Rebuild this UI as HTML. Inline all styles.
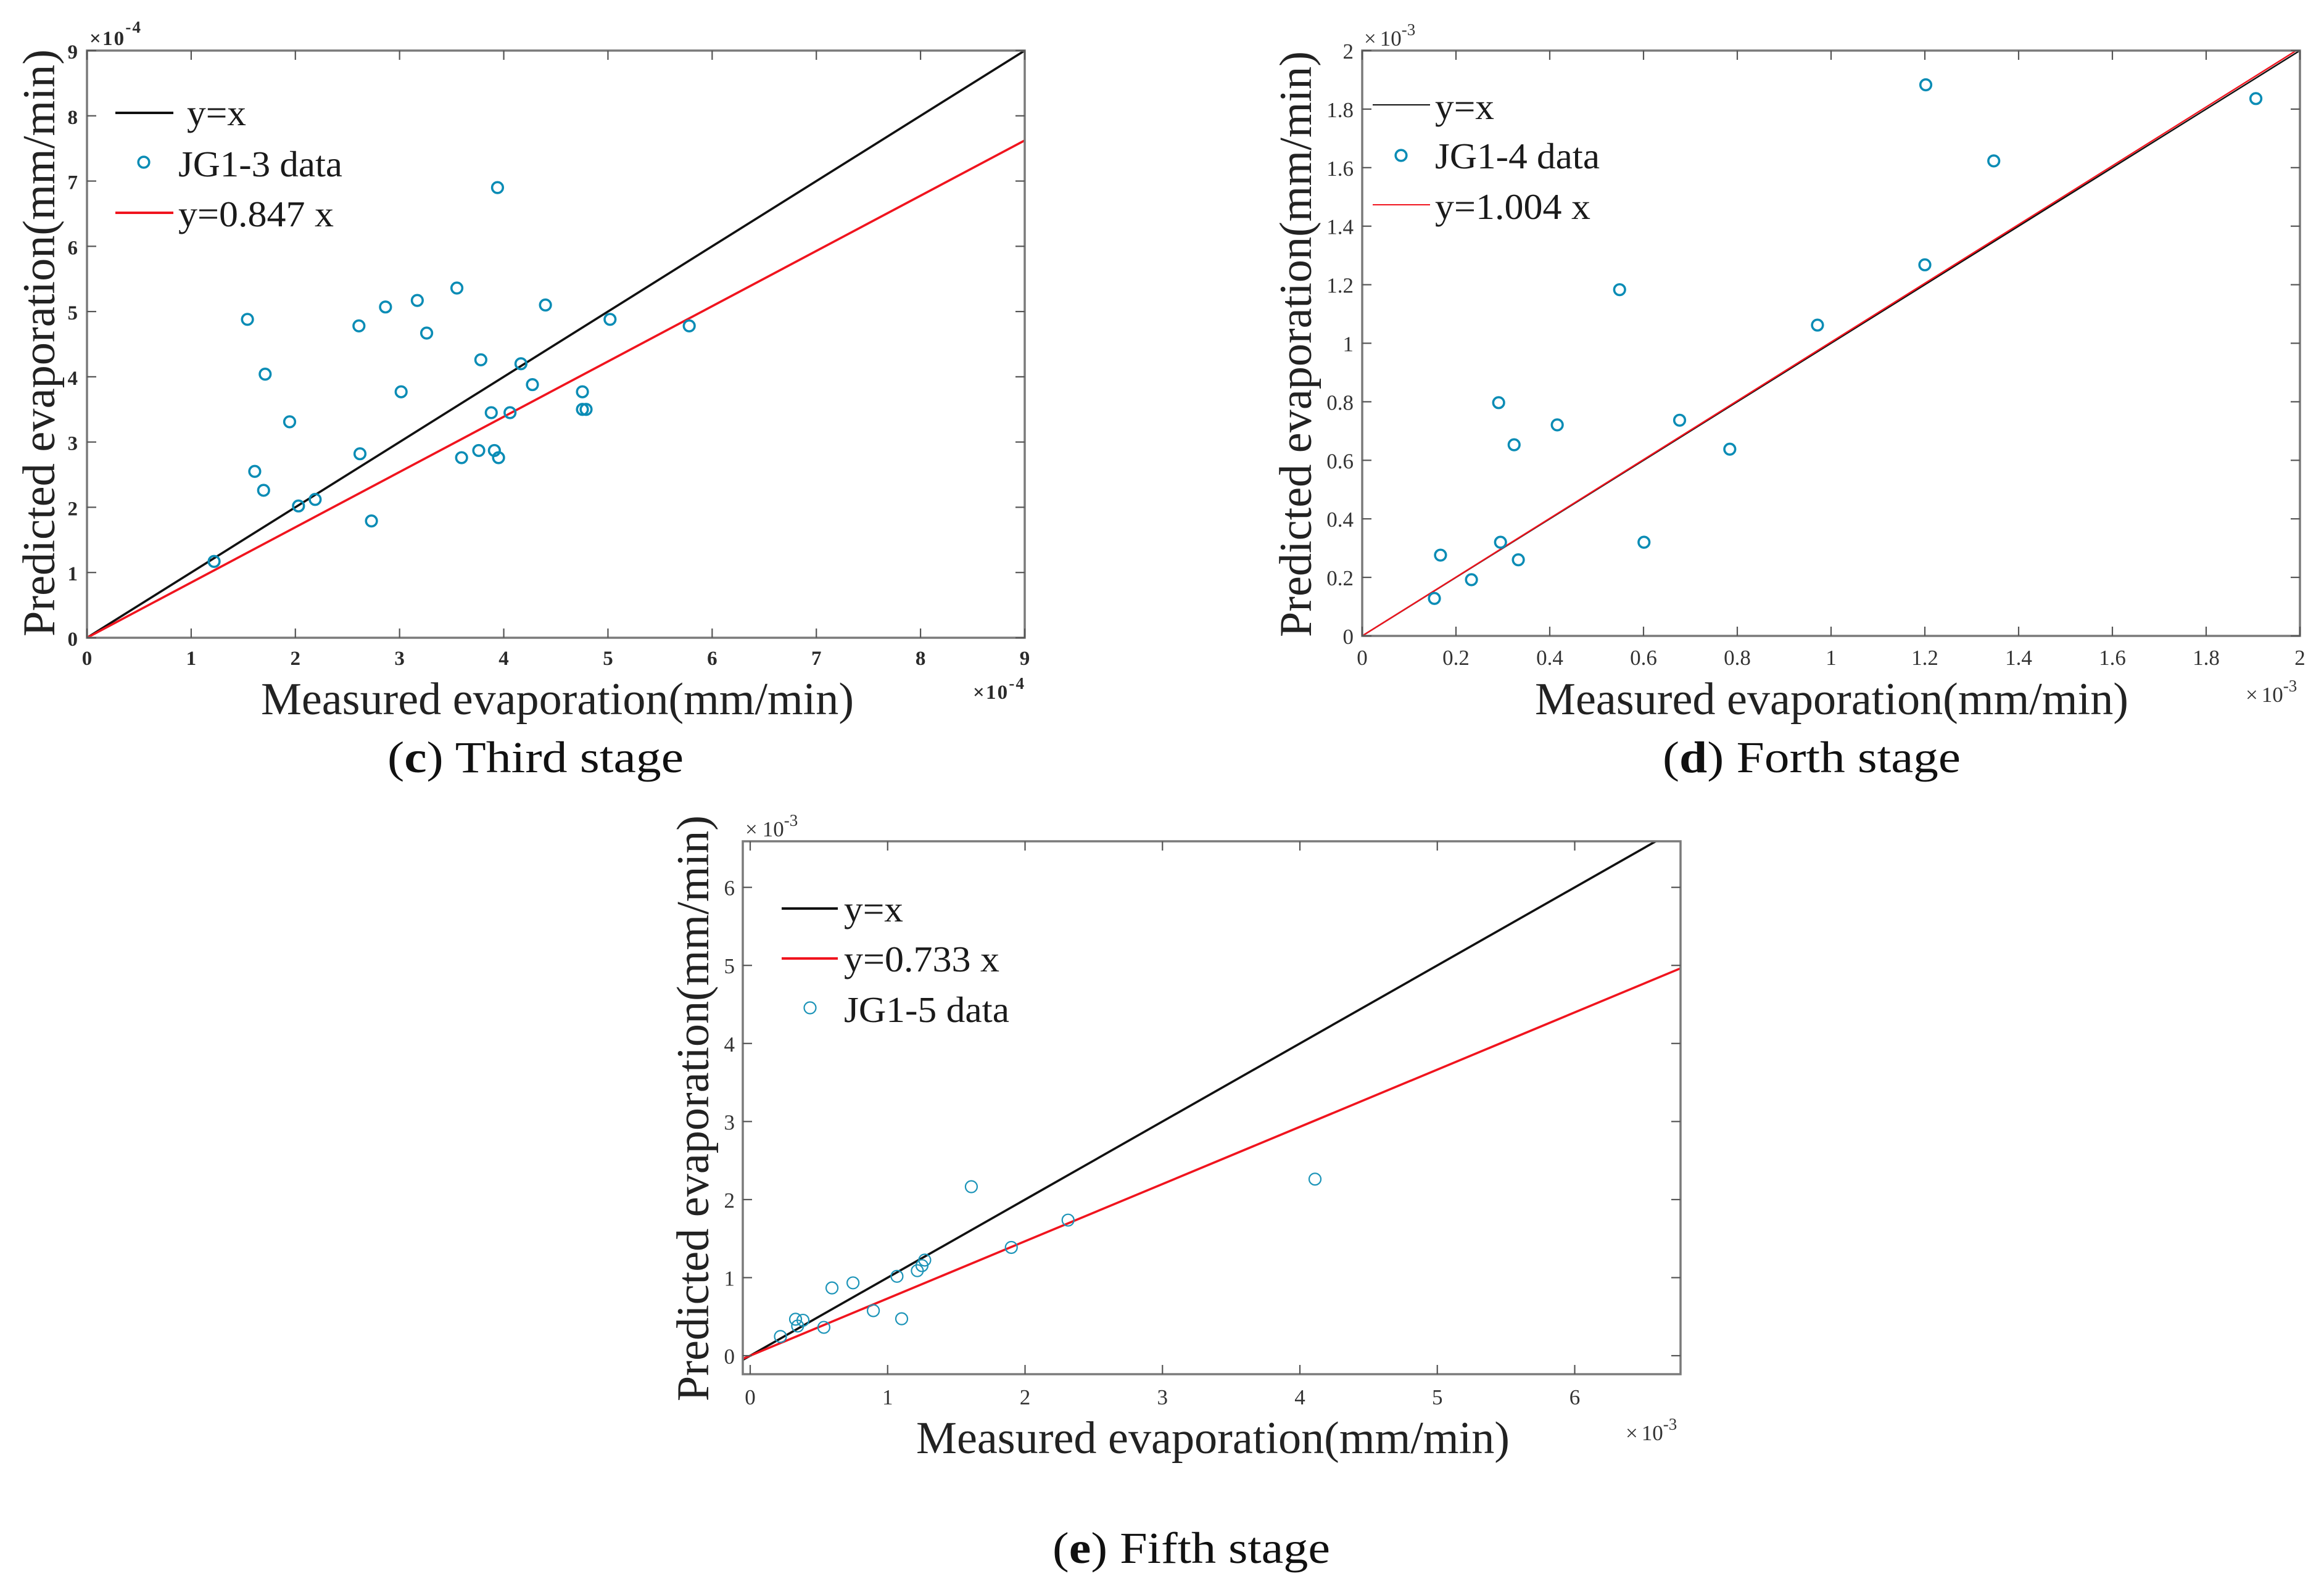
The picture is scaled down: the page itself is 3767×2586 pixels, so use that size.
<!DOCTYPE html>
<html lang="en">
<head>
<meta charset="utf-8">
<title>Measured vs predicted evaporation</title>
<style>
html,body{margin:0;padding:0;background:#fff;}
svg{display:block;}
text{font-family:"Liberation Serif","DejaVu Serif",serif;fill:#1a1a1a;}
.title{font-size:74px;fill:#222;}
.legend{font-size:59px;fill:#1a1a1a;}
.caption{font-size:72px;fill:#111;}
.tick{font-size:35px;fill:#333;}
.tick-bold{font-size:33px;font-weight:bold;fill:#2a2a2a;}
.expo{font-size:35px;fill:#333;}
.expo-bold{font-size:33px;font-weight:bold;fill:#2a2a2a;}
.sup{font-size:27px;}
</style>
</head>
<body>
<svg id="figure" xmlns="http://www.w3.org/2000/svg" width="3767" height="2586" viewBox="0 0 3767 2586">
<rect x="0" y="0" width="3767" height="2586" fill="#ffffff"/>

<g id="panel-c">
  <text class="title" transform="translate(88,1032) rotate(-90)" textLength="952" lengthAdjust="spacingAndGlyphs">Predicted evaporation(mm/min)</text>
  <text class="title" x="423" y="1158" textLength="961" lengthAdjust="spacingAndGlyphs">Measured evaporation(mm/min)</text>
  <text class="expo-bold" x="145" y="73" textLength="83">×10<tspan class="sup" dy="-20">-4</tspan></text>
  <text class="expo-bold" x="1577" y="1133" textLength="83">×10<tspan class="sup" dy="-16">-4</tspan></text>
  <text class="caption" x="628" y="1252" textLength="480" lengthAdjust="spacingAndGlyphs">(<tspan font-weight="bold">c</tspan>) Third stage</text>
  <line x1="187" y1="183" x2="281" y2="183" stroke="#111" stroke-width="4"/>
  <text class="legend" x="303" y="203" textLength="96" lengthAdjust="spacingAndGlyphs">y=x</text>
  <circle cx="233" cy="263" r="8.8" fill="none" stroke="#0a8cb5" stroke-width="3.6"/>
  <text class="legend" x="289" y="286" textLength="266" lengthAdjust="spacingAndGlyphs">JG1-3 data</text>
  <line x1="187" y1="345" x2="281" y2="345" stroke="#f0141e" stroke-width="4"/>
  <text class="legend" x="289" y="367" textLength="252" lengthAdjust="spacingAndGlyphs">y=0.847 x</text>
</g>

<g id="panel-d">
  <text class="title" transform="translate(2125,1033) rotate(-90)" textLength="950" lengthAdjust="spacingAndGlyphs">Predicted evaporation(mm/min)</text>
  <text class="title" x="2488" y="1158" textLength="962" lengthAdjust="spacingAndGlyphs">Measured evaporation(mm/min)</text>
  <text class="expo" x="2211" y="74"><tspan>×</tspan><tspan dx="6">10</tspan><tspan class="sup" dy="-17">-3</tspan></text>
  <text class="expo" x="3640" y="1138"><tspan>×</tspan><tspan dx="6">10</tspan><tspan class="sup" dy="-17">-3</tspan></text>
  <text class="caption" x="2695" y="1252" textLength="483" lengthAdjust="spacingAndGlyphs">(<tspan font-weight="bold">d</tspan>) Forth stage</text>
  <line x1="2225" y1="170" x2="2318" y2="170" stroke="#111" stroke-width="2"/>
  <text class="legend" x="2326" y="193" textLength="96" lengthAdjust="spacingAndGlyphs">y=x</text>
  <circle cx="2271" cy="252" r="8.8" fill="none" stroke="#0a8cb5" stroke-width="3.6"/>
  <text class="legend" x="2326" y="273" textLength="267" lengthAdjust="spacingAndGlyphs">JG1-4 data</text>
  <line x1="2225" y1="332" x2="2318" y2="332" stroke="#f0141e" stroke-width="2"/>
  <text class="legend" x="2326" y="355" textLength="252" lengthAdjust="spacingAndGlyphs">y=1.004 x</text>
</g>

<g id="panel-e">
  <text class="title" transform="translate(1148,2272) rotate(-90)" textLength="950" lengthAdjust="spacingAndGlyphs">Predicted evaporation(mm/min)</text>
  <text class="title" x="1485" y="2356" textLength="962" lengthAdjust="spacingAndGlyphs">Measured evaporation(mm/min)</text>
  <text class="expo" x="1208" y="1356"><tspan>×</tspan><tspan dx="8">10</tspan><tspan class="sup" dy="-17">-3</tspan></text>
  <text class="expo" x="2635" y="2335"><tspan>×</tspan><tspan dx="6">10</tspan><tspan class="sup" dy="-17">-3</tspan></text>
  <text class="caption" x="1706" y="2534" textLength="450" lengthAdjust="spacingAndGlyphs">(<tspan font-weight="bold">e</tspan>) Fifth stage</text>
  <line x1="1267" y1="1473" x2="1358" y2="1473" stroke="#111" stroke-width="4"/>
  <text class="legend" x="1368" y="1494" textLength="96" lengthAdjust="spacingAndGlyphs">y=x</text>
  <line x1="1267" y1="1554" x2="1358" y2="1554" stroke="#f0141e" stroke-width="4"/>
  <text class="legend" x="1368" y="1575" textLength="252" lengthAdjust="spacingAndGlyphs">y=0.733 x</text>
  <circle cx="1313" cy="1634" r="9.5" fill="none" stroke="#1c94b8" stroke-width="2.2"/>
  <text class="legend" x="1368" y="1657" textLength="268" lengthAdjust="spacingAndGlyphs">JG1-5 data</text>
</g>
</svg>

<script>
// Panel (c) data, in units of 1e-4 mm/min
const cMeasured = [1.54,1.71,1.945,1.61,1.695,2.61,2.865,3.17,3.55,3.26,3.94,4.40,5.02,5.78,3.78,4.165,4.275,3.015,4.755,4.755,4.79,3.88,4.06,2.62,3.595,3.76,3.91,3.95,1.22,2.03,2.19,2.73];
const cPredicted = [4.88,4.04,3.31,2.55,2.26,4.78,5.07,5.17,5.36,4.67,6.90,5.10,4.88,4.78,4.26,4.20,3.88,3.77,3.77,3.50,3.50,3.45,3.45,2.82,2.76,2.87,2.87,2.76,1.17,2.02,2.12,1.79];
const cSlope = 0.847;
const cXTicks = [0,1,2,3,4,5,6,7,8,9];
const cYTicks = [0,1,2,3,4,5,6,7,8,9];
const cXLimits = [0,9];
const cYLimits = [0,9];

// Panel (d) data, in units of 1e-3 mm/min
const dMeasured = [0.154,0.167,0.233,0.295,0.333,0.291,0.324,0.416,0.549,0.601,0.677,0.784,0.971,1.200,1.202,1.347,1.906];
const dPredicted = [0.128,0.276,0.192,0.32,0.26,0.797,0.653,0.721,1.183,0.32,0.737,0.638,1.062,1.268,1.883,1.623,1.836];
const dSlope = 1.004;
const dXTicks = [0,0.2,0.4,0.6,0.8,1,1.2,1.4,1.6,1.8,2];
const dYTicks = [0,0.2,0.4,0.6,0.8,1,1.2,1.4,1.6,1.8,2];
const dXLimits = [0,2];
const dYLimits = [0,2];

// Panel (e) data, in units of 1e-3 mm/min
const eMeasured = [0.22,0.33,0.345,0.384,0.536,0.595,0.748,0.896,1.068,1.102,1.216,1.25,1.27,1.609,1.90,2.313,4.11];
const ePredicted = [0.246,0.467,0.38,0.454,0.363,0.868,0.933,0.577,1.017,0.473,1.089,1.154,1.225,2.165,1.387,1.737,2.262];
const eSlope = 0.733;
const eXTicks = [0,1,2,3,4,5,6];
const eYTicks = [0,1,2,3,4,5,6];
const eXLimits = [-0.054,6.77];
const eYLimits = [-0.237,6.59];

const SVG_NS = 'http://www.w3.org/2000/svg';

function make(tag, attrs, parent) {
  const el = document.createElementNS(SVG_NS, tag);
  for (const k in attrs) el.setAttribute(k, attrs[k]);
  parent.appendChild(el);
  return el;
}

function drawPanel(spec) {
  const parent = document.getElementById(spec.id);
  const sx = v => spec.left + (v - spec.xLim[0]) / (spec.xLim[1] - spec.xLim[0]) * (spec.right - spec.left);
  const sy = v => spec.bottom - (v - spec.yLim[0]) / (spec.yLim[1] - spec.yLim[0]) * (spec.bottom - spec.top);
  const clipId = 'clip-' + spec.key;
  const defs = make('defs', {}, parent);
  const clip = make('clipPath', {id: clipId}, defs);
  make('rect', {x: spec.left, y: spec.top, width: spec.right - spec.left, height: spec.bottom - spec.top}, clip);

  // Reference line and fit line
  const xStart = spec.xLim[0];
  const xEnd = spec.xLim[1];
  const identity = make('line', {x1: sx(xStart), y1: sy(xStart), x2: sx(xEnd), y2: sy(xEnd), stroke: '#111', 'stroke-width': spec.lineWidth, 'clip-path': 'url(#' + clipId + ')'}, parent);
  
  
  const fit = make('line', {x1: sx(xStart), y1: sy(xStart * spec.slope), x2: sx(xEnd), y2: sy(xEnd * spec.slope), stroke: '#f0141e', 'stroke-width': spec.lineWidth, 'clip-path': 'url(#' + clipId + ')'}, parent);
  
  

  // Data points
  spec.xs.forEach((v, i) => {
    const pt = make('circle', {cx: sx(v), cy: sy(spec.ys[i]), r: spec.markerR, fill: 'none', stroke: spec.markerColor, 'stroke-width': spec.markerW}, parent);
    
    
  });

  // Axes box
  const box = make('rect', {x: spec.left, y: spec.top, width: spec.right - spec.left, height: spec.bottom - spec.top, fill: 'none', stroke: '#7a7a7a', 'stroke-width': 3.5}, parent);
  
  

  // X ticks and labels
  spec.xTicks.forEach(t => {
    const x = sx(t);
    const lowTick = make('line', {x1: x, y1: spec.bottom, x2: x, y2: spec.bottom - 15, stroke: '#555', 'stroke-width': 2.2}, parent);
    
    
    const highTick = make('line', {x1: x, y1: spec.top, x2: x, y2: spec.top + 15, stroke: '#555', 'stroke-width': 2.2}, parent);
    
    
    const label = make('text', {class: spec.tickClass, x: x, y: spec.xLabelY, 'text-anchor': 'middle'}, parent);
    
    
    label.textContent = String(t);
  });

  // Y ticks and labels
  spec.yTicks.forEach(t => {
    const y = sy(t);
    const leftTick = make('line', {x1: spec.left, y1: y, x2: spec.left + 15, y2: y, stroke: '#555', 'stroke-width': 2.2}, parent);
    
    
    const rightTick = make('line', {x1: spec.right, y1: y, x2: spec.right - 15, y2: y, stroke: '#555', 'stroke-width': 2.2}, parent);
    
    
    const label = make('text', {class: spec.tickClass, x: spec.yLabelX, y: y + 13, 'text-anchor': 'end'}, parent);
    
    
    label.textContent = String(t);
  });
}

drawPanel({id: 'panel-c', key: 'c', left: 141, right: 1661, top: 82, bottom: 1034,
  xLim: cXLimits, yLim: cYLimits, xs: cMeasured, ys: cPredicted, slope: cSlope,
  xTicks: cXTicks, yTicks: cYTicks, xLabelY: 1078, yLabelX: 126, tickClass: 'tick-bold',
  lineWidth: 3.6, markerR: 8.8, markerW: 3.6, markerColor: '#0a8cb5'});

drawPanel({id: 'panel-d', key: 'd', left: 2208, right: 3728, top: 82, bottom: 1031,
  xLim: dXLimits, yLim: dYLimits, xs: dMeasured, ys: dPredicted, slope: dSlope,
  xTicks: dXTicks, yTicks: dYTicks, xLabelY: 1078, yLabelX: 2194, tickClass: 'tick',
  lineWidth: 2.4, markerR: 8.8, markerW: 3.6, markerColor: '#0a8cb5'});

drawPanel({id: 'panel-e', key: 'e', left: 1204, right: 2724, top: 1364, bottom: 2228,
  xLim: eXLimits, yLim: eYLimits, xs: eMeasured, ys: ePredicted, slope: eSlope,
  xTicks: eXTicks, yTicks: eYTicks, xLabelY: 2277, yLabelX: 1191, tickClass: 'tick',
  lineWidth: 3.6, markerR: 9.5, markerW: 2.2, markerColor: '#1c94b8'});
</script>
</body>
</html>
